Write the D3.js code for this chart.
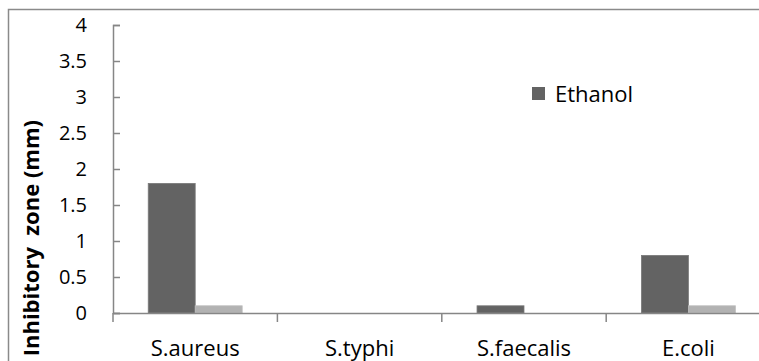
<!DOCTYPE html>
<html>
<head>
<meta charset="utf-8">
<script src="https://cdn.jsdelivr.net/npm/d3@7"></script>
<style>
  html, body { margin: 0; padding: 0; background: #fff; }
  svg { display: block; }
  text { font-family: "Open Sans", "Noto Sans", sans-serif; fill: #000; }
</style>
</head>
<body>
<svg id="chart" width="759" height="361"></svg>
<script>
// Inhibitory zone (mm) per organism, two extracts
const categories = ["S.aureus", "S.typhi", "S.faecalis", "E.coli"];
const ethanol = [1.8, 0, 0.1, 0.8];
const secondExtract = [0.1, 0, 0, 0.1];
const seriesNames = ["Ethanol", "Extract 2"];
const yTicks = [0, 0.5, 1, 1.5, 2, 2.5, 3, 3.5, 4];
const yTitle = "Inhibitory  zone (mm)";

const colors = ["#636363", "#b2b2b2"];

const svg = d3.select("#chart");

// Chart frame (continues past the right and bottom edges)
svg.append("rect")
  .attr("x", 8.5).attr("y", 9.5)
  .attr("width", 800).attr("height", 400)
  .attr("fill", "#fff")
  .attr("stroke", "#8a8a8a")
  .attr("stroke-width", 1.5);

const plotLeft = 113, plotTop = 25, plotBottom = 313;
const catStep = 164.4;

const x = d3.scaleBand()
  .domain(categories)
  .range([plotLeft, plotLeft + catStep * categories.length])
  .paddingInner(0).paddingOuter(0);

const xSub = d3.scaleBand()
  .domain(d3.range(seriesNames.length))
  .range([0, x.bandwidth()])
  .paddingInner(0)
  .paddingOuter(0.75);

const y = d3.scaleLinear().domain([0, 4]).range([plotBottom, plotTop]);

const seriesData = [ethanol, secondExtract];

// Bars
const groups = svg.append("g").selectAll("g")
  .data(categories)
  .join("g")
  .attr("transform", d => `translate(${x(d)},0)`);

groups.selectAll("rect")
  .data((c, i) => seriesData.map((s, k) => ({ k, v: s[i] })))
  .join("rect")
  .attr("x", d => xSub(d.k))
  .attr("width", xSub.bandwidth())
  .attr("y", d => y(d.v))
  .attr("height", d => y(0) - y(d.v))
  .attr("fill", d => colors[d.k])
  .attr("stroke", d => d.v > 0 ? (d.k === 0 ? "#7a7a7a" : "#bdbdbd") : "none")
  .attr("stroke-width", 0.8);

// Y axis: ticks pointing into the plot
const yAxis = svg.append("g")
  .attr("transform", `translate(${plotLeft},0)`)
  .call(d3.axisLeft(y).tickValues(yTicks).tickSize(-7).tickPadding(26)
    .tickFormat(d3.format("")));
yAxis.select(".domain").attr("stroke", "#868686").attr("stroke-width", 1.5);
yAxis.selectAll(".tick line").attr("stroke", "#868686").attr("stroke-width", 1.5);
yAxis.selectAll(".tick text")
  .attr("font-size", 20)
  .attr("font-family", "'Open Sans', sans-serif")
  .attr("fill", "#000");

// X axis: labels centred in each category, ticks on category boundaries
const xAxis = svg.append("g")
  .attr("transform", `translate(0,${plotBottom})`)
  .call(d3.axisBottom(x).tickSize(0).tickPadding(0));
xAxis.select(".domain").attr("stroke", "#868686").attr("stroke-width", 1.5);
xAxis.selectAll(".tick text")
  .attr("y", 43).attr("dy", null)
  .attr("font-size", 22)
  .attr("font-family", "'Open Sans', sans-serif")
  .attr("fill", "#000");

xAxis.append("g").selectAll("line")
  .data(categories)
  .join("line")
  .attr("x1", d => x(d)).attr("x2", d => x(d))
  .attr("y1", 0).attr("y2", 9)
  .attr("stroke", "#868686").attr("stroke-width", 1.5);

// Y axis title
svg.append("text")
  .attr("transform", "translate(39,120) rotate(-90)")
  .attr("text-anchor", "end")
  .attr("font-size", 22)
  .attr("font-weight", "bold")
  .style("white-space", "pre")
  .attr("xml:space", "preserve")
  .text(yTitle);

// Legend
const legend = svg.append("g").attr("transform", "translate(532,87)");
legend.append("rect")
  .attr("width", 13).attr("height", 13)
  .attr("fill", colors[0]);
legend.append("text")
  .attr("x", 23).attr("y", 14.5)
  .attr("font-size", 22)
  .text(seriesNames[0]);
</script>
</body>
</html>
